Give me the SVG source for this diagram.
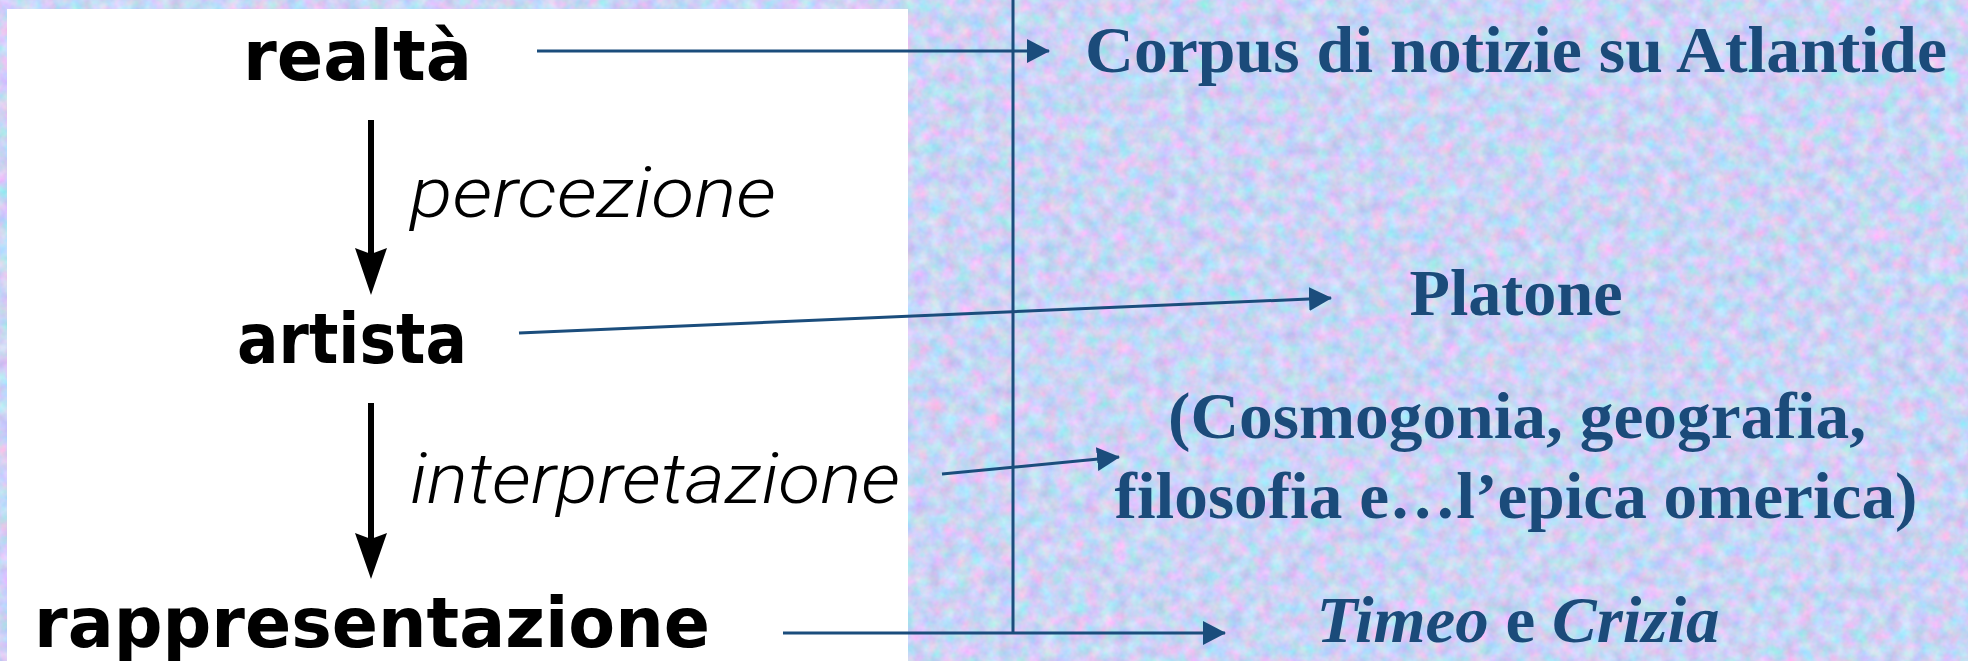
<svg xmlns="http://www.w3.org/2000/svg" width="1968" height="661" viewBox="0 0 1968 661">
  <defs>
    <filter id="tex" x="0" y="0" width="100%" height="100%" color-interpolation-filters="sRGB">
      <feTurbulence type="fractalNoise" baseFrequency="0.07" numOctaves="3" seed="7"/>
      <feColorMatrix type="matrix" values="0.4 -0.25 0 0 0.72  0 0.3 0 0 0.68  0 0 0.18 0 0.87  0 0 0 0 1"/>
    </filter>
    <marker id="ah" viewBox="0 0 23 24" refX="22" refY="12" markerWidth="23" markerHeight="24" markerUnits="userSpaceOnUse" orient="auto">
      <path d="M0,0 L23,12 L0,24 Z" fill="#1b4d7c"/>
    </marker>
    <style>
      .lbl { font-family: "DejaVu Sans", "Liberation Sans", sans-serif; font-weight: bold; font-size: 69px; fill: #000; }
      .proc { font-family: "Roboto", "DejaVu Sans", sans-serif; font-style: italic; font-weight: 300; font-size: 70px; fill: #000; }
      .rt { font-family: "Liberation Serif", "Times New Roman", serif; font-weight: bold; font-size: 66px; fill: #1b4b7a; text-anchor: middle; }
      .conn { stroke: #1b4d7c; stroke-width: 3; fill: none; }
      .down { stroke: #000; stroke-width: 6; }
    </style>
  </defs>

  <rect width="1968" height="661" fill="#c6d3f6"/>
  <rect width="1968" height="661" filter="url(#tex)"/>
  <rect x="7" y="9" width="901" height="652" fill="#ffffff"/>

  <g id="realta"><text class="lbl" x="243" y="80" textLength="229" lengthAdjust="spacingAndGlyphs">realtà</text></g>
  <g id="artista"><text class="lbl" x="237" y="363" textLength="230" lengthAdjust="spacingAndGlyphs">artista</text></g>
  <g id="rappresentazione"><text class="lbl" x="34" y="647" textLength="676" lengthAdjust="spacingAndGlyphs">rappresentazione</text></g>

  <g id="percezione">
    <line class="down" x1="371" y1="120" x2="371" y2="255"/>
    <polygon points="355,248 371,254 387,248 371,295" fill="#000"/>
    <text class="proc" x="410" y="217" textLength="366" lengthAdjust="spacingAndGlyphs">percezione</text>
  </g>
  <g id="interpretazione">
    <line class="down" x1="371" y1="403" x2="371" y2="540"/>
    <polygon points="355,533 371,539 387,533 371,579" fill="#000"/>
    <text class="proc" x="410" y="503" textLength="490" lengthAdjust="spacingAndGlyphs">interpretazione</text>
  </g>

  <g id="corpus"><text class="rt" x="1516" y="72" textLength="862" lengthAdjust="spacingAndGlyphs">Corpus di notizie su Atlantide</text></g>
  <g id="platone"><text class="rt" x="1516" y="315" textLength="213" lengthAdjust="spacingAndGlyphs">Platone</text></g>
  <g id="fonti">
    <text class="rt" x="1517" y="438" textLength="698" lengthAdjust="spacingAndGlyphs">(Cosmogonia, geografia,</text>
    <text class="rt" x="1516" y="518" textLength="803" lengthAdjust="spacingAndGlyphs">filosofia e…l’epica omerica)</text>
  </g>
  <g id="opere"><text class="rt" x="1518" y="642" textLength="403" lengthAdjust="spacingAndGlyphs"><tspan font-style="italic">Timeo</tspan> e <tspan font-style="italic">Crizia</tspan></text></g>

  <g id="connectors">
    <line class="conn" x1="1013" y1="0" x2="1013" y2="634"/>
    <line class="conn" x1="537" y1="51" x2="1049" y2="51" marker-end="url(#ah)"/>
    <line class="conn" x1="519" y1="333" x2="1331" y2="298" marker-end="url(#ah)"/>
    <line class="conn" x1="942" y1="474" x2="1119" y2="457" marker-end="url(#ah)"/>
    <line class="conn" x1="783" y1="633" x2="1225" y2="633" marker-end="url(#ah)"/>
  </g>
</svg>
